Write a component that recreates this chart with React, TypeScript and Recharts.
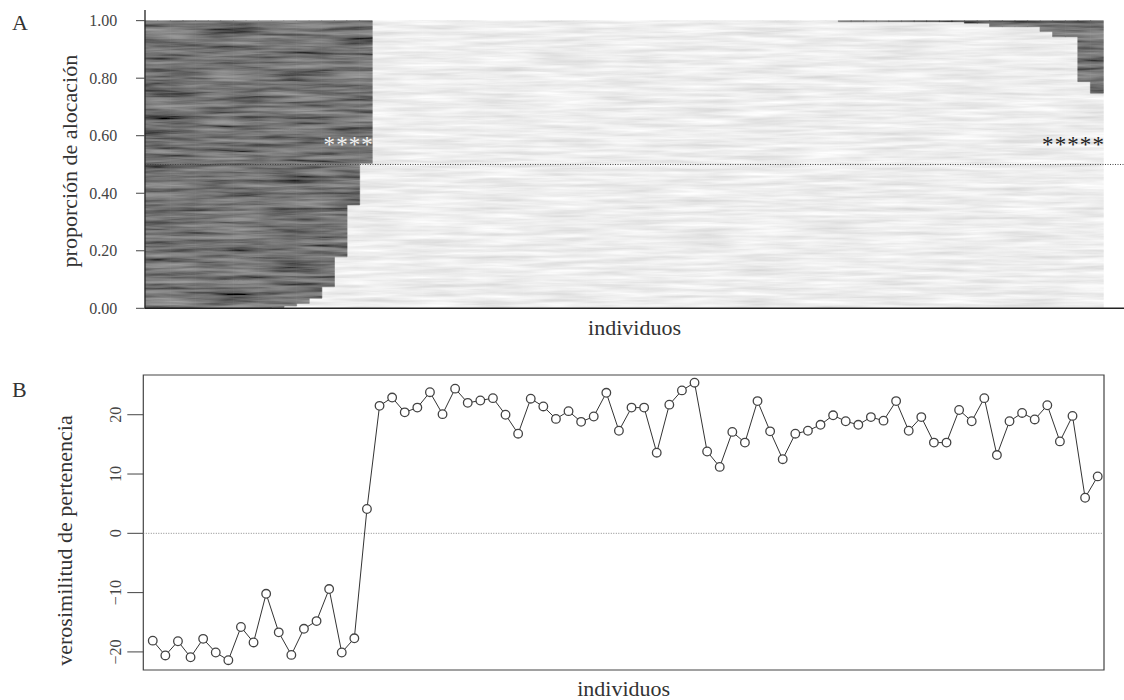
import React from 'react';
import {
  ComposedChart,
  Bar,
  XAxis,
  YAxis,
  ReferenceLine,
  Scatter,
  LineChart,
  Line,
  ReferenceArea,
} from 'recharts';

// ---------- data ----------
const individuos: number[] = Array.from({ length: 76 }, (_, i) => i + 1);

// proportion assigned to group 1 (dark); group 2 (light) is the complement
const proporcionGrupo1: number[] = [
  1, 1, 1, 1, 1, 1, 1, 1, 1, 1,
  0.997, 0.992, 0.983, 0.965, 0.925, 0.821, 0.641, 0.496,
  0, 0, 0, 0, 0, 0, 0, 0, 0, 0,
  0, 0, 0, 0, 0, 0, 0, 0, 0, 0,
  0, 0, 0, 0, 0, 0, 0, 0, 0, 0,
  0, 0, 0, 0, 0, 0, 0,
  0.004, 0.004, 0.004, 0.004, 0.004, 0.004, 0.004, 0.004, 0.004, 0.004,
  0.009, 0.009,
  0.021, 0.021, 0.021, 0.021,
  0.038, 0.056, 0.056, 0.212, 0.252,
];

const verosimilitud: number[] = [
  -18.1, -20.6, -18.2, -20.9, -17.8, -20.1, -21.4, -15.8, -18.4, -10.2,
  -16.7, -20.5, -16.1, -14.8, -9.4, -20.1, -17.7, 4.1, 21.5, 22.9,
  20.4, 21.2, 23.8, 20.1, 24.4, 22.0, 22.4, 22.8, 20.0, 16.8,
  22.7, 21.4, 19.3, 20.6, 18.8, 19.7, 23.7, 17.3, 21.2, 21.2,
  13.6, 21.7, 24.1, 25.4, 13.8, 11.2, 17.1, 15.3, 22.3, 17.2,
  12.5, 16.8, 17.3, 18.3, 19.9, 18.9, 18.3, 19.6, 19.0, 22.3,
  17.3, 19.6, 15.3, 15.3, 20.8, 18.9, 22.8, 13.2, 18.9, 20.3,
  19.2, 21.6, 15.5, 19.8, 6.0, 9.6,
];

const asteriscosBlancos: number[] = [15, 16, 17, 18];
const asteriscosNegros: number[] = [72, 73, 74, 75, 76];
const alturaAsterisco = 0.58;

const ticksA: number[] = [0, 0.2, 0.4, 0.6, 0.8, 1.0];
const ticksB: number[] = [-20, -10, 0, 10, 20];

const dataA = individuos.map((id, i) => ({
  id,
  g1: proporcionGrupo1[i],
  g2: +(1 - proporcionGrupo1[i]).toFixed(3),
  starW: asteriscosBlancos.includes(id) ? alturaAsterisco : null,
  starB: asteriscosNegros.includes(id) ? alturaAsterisco : null,
}));

const dataB = individuos.map((id, i) => ({ x: id, v: verosimilitud[i] }));

// ---------- styling ----------
const FONT = '"Liberation Serif", "DejaVu Serif", serif';
const INK = '#333';

const StarShape = (color: string, key: 'starW' | 'starB') => (props: any) => {
  const { cx, cy, payload } = props;
  if (!payload || payload[key] == null || cx == null || cy == null) return <g />;
  return (
    <text
      x={cx + 1.5}
      y={cy + 11}
      fill={color}
      textAnchor="middle"
      fontFamily={FONT}
      fontSize={23}
    >
      *
    </text>
  );
};

const YLabelA = (props: any) => {
  const vb = props.viewBox || { x: 0, y: 0, width: 0, height: 0 };
  const x = vb.x + 70;
  const y = vb.y + vb.height / 2 + 2;
  return (
    <text
      x={x}
      y={y}
      transform={`rotate(-90, ${x}, ${y})`}
      textAnchor="middle"
      dominantBaseline="central"
      fontFamily={FONT}
      fontSize={22}
      fill={INK}
    >
      proporción de alocación
    </text>
  );
};

const YLabelB = (props: any) => {
  const vb = props.viewBox || { x: 0, y: 0, width: 0, height: 0 };
  const x = vb.x + 64;
  const y = vb.y + vb.height / 2 + 18;
  return (
    <text
      x={x}
      y={y}
      transform={`rotate(-90, ${x}, ${y})`}
      textAnchor="middle"
      dominantBaseline="central"
      fontFamily={FONT}
      fontSize={22}
      fill={INK}
    >
      verosimilitud de pertenencia
    </text>
  );
};

const XLabel = (offsetFromBottom: number) => (props: any) => {
  const vb = props.viewBox || { x: 0, y: 0, width: 0, height: 0 };
  return (
    <text
      x={vb.x + vb.width / 2}
      y={vb.y + vb.height - offsetFromBottom}
      textAnchor="middle"
      fontFamily={FONT}
      fontSize={22}
      fill={INK}
    >
      individuos
    </text>
  );
};

const RotTick = (props: any) => {
  const { x, y, payload } = props;
  const v = payload.value as number;
  const label = v < 0 ? `\u2212${Math.abs(v)}` : `${v}`;
  return (
    <text
      x={x}
      y={y}
      transform={`rotate(-90, ${x}, ${y})`}
      textAnchor="middle"
      fontFamily={FONT}
      fontSize={16}
      fill="#444"
    >
      {label}
    </text>
  );
};

export default function App() {
  return (
    <div
      style={{
        position: 'absolute',
        left: 0,
        top: 0,
        width: 1124,
        height: 700,
        background: '#fff',
        overflow: 'hidden',
      }}
    >
      <svg
        width={1124}
        height={700}
        style={{ position: 'absolute', left: 0, top: 0, pointerEvents: 'none' }}
      >
        <defs>
          <filter id="fDark" x="0" y="0" width="100%" height="100%">
            <feTurbulence type="fractalNoise" baseFrequency="0.015 0.25" numOctaves={3} seed={4} />
            <feColorMatrix
              type="matrix"
              values="0.45 0 0 0 -0.05  0.45 0 0 0 -0.05  0.45 0 0 0 -0.05  0 0 0 0 1"
            />
          </filter>
          <filter id="fLight" x="0" y="0" width="100%" height="100%">
            <feTurbulence type="fractalNoise" baseFrequency="0.015 0.25" numOctaves={3} seed={9} />
            <feColorMatrix
              type="matrix"
              values="0.4 0 0 0 0.65  0.4 0 0 0 0.65  0.4 0 0 0 0.65  0 0 0 0 1"
            />
          </filter>
          <pattern id="texDark" patternUnits="userSpaceOnUse" x={0} y={0} width={1124} height={360}>
            <rect x={0} y={0} width={1124} height={360} filter="url(#fDark)" />
          </pattern>
          <pattern id="texLight" patternUnits="userSpaceOnUse" x={0} y={0} width={1124} height={360}>
            <rect x={0} y={0} width={1124} height={360} filter="url(#fLight)" />
          </pattern>
        </defs>
        <text x={12} y={30} fontFamily={FONT} fontSize={22} fill={INK}>
          A
        </text>
        <text x={12} y={397} fontFamily={FONT} fontSize={22} fill={INK}>
          B
        </text>
      </svg>

      {/* Panel A */}
      <div style={{ position: 'absolute', left: 0, top: 0 }}>
        <ComposedChart
          width={1124}
          height={340}
          data={dataA}
          margin={{ top: 10, right: 0, bottom: 0, left: 0 }}
          barCategoryGap={0}
          barGap={0}
        >
          <XAxis
            dataKey="id"
            type="category"
            tick={false}
            tickLine={false}
            axisLine={{ stroke: '#222', strokeWidth: 1.5 }}
            height={31.7}
            padding={{ left: 0, right: 21 }}
            label={{ content: XLabel(5) as any } as any}
          />
          <YAxis
            type="number"
            domain={[0, 1.037]}
            allowDataOverflow
            ticks={ticksA}
            width={145}
            tickSize={9}
            tickMargin={18.7}
            axisLine={{ stroke: '#222', strokeWidth: 1.3 }}
            tickLine={{ stroke: '#444' }}
            tick={{ fontFamily: FONT, fontSize: 16, fill: '#444' }}
            tickFormatter={(v: number) => v.toFixed(2)}
            label={{ content: YLabelA as any } as any}
          />
          <Bar
            dataKey="g2"
            stackId="s"
            fill="url(#texLight)"
            stroke="url(#texLight)"
            strokeWidth={0.6}
            isAnimationActive={false}
          />
          <Bar
            dataKey="g1"
            stackId="s"
            fill="url(#texDark)"
            stroke="url(#texDark)"
            strokeWidth={0.6}
            isAnimationActive={false}
          />
          <ReferenceLine y={0.5} stroke="#444" strokeDasharray="1 1.5" strokeWidth={1} />
          <Scatter dataKey="starW" shape={StarShape('#f2f2f2', 'starW')} isAnimationActive={false} />
          <Scatter dataKey="starB" shape={StarShape('#222', 'starB')} isAnimationActive={false} />
        </ComposedChart>
      </div>

      {/* Panel B */}
      <div style={{ position: 'absolute', left: 0, top: 340 }}>
        <LineChart
          width={1124}
          height={360}
          data={dataB}
          margin={{ top: 35, right: 20, bottom: 0, left: 0 }}
        >
          <XAxis
            dataKey="x"
            type="number"
            domain={[0.25, 76.5]}
            allowDataOverflow
            tick={false}
            tickLine={false}
            axisLine={false}
            height={30}
            label={{ content: XLabel(4) as any } as any}
          />
          <YAxis
            type="number"
            domain={[-23.05, 26.7]}
            allowDataOverflow
            ticks={ticksB}
            width={143.3}
            tickSize={16}
            tickMargin={6.3}
            axisLine={false}
            tickLine={{ stroke: '#444' }}
            tick={<RotTick />}
            label={{ content: YLabelB as any } as any}
          />
          <ReferenceArea
            x1={0.25}
            x2={76.5}
            y1={-23.05}
            y2={26.7}
            fill="none"
            fillOpacity={0}
            stroke="#444"
            strokeWidth={1.2}
            ifOverflow="visible"
          />
          <ReferenceLine y={0} stroke="#888" strokeDasharray="1 1.5" strokeWidth={1} />
          <Line
            type="linear"
            dataKey="v"
            stroke="#333"
            strokeWidth={1}
            dot={{ r: 4.3, fill: '#fff', stroke: '#444', strokeWidth: 1.3 }}
            isAnimationActive={false}
          />
        </LineChart>
      </div>
    </div>
  );
}
